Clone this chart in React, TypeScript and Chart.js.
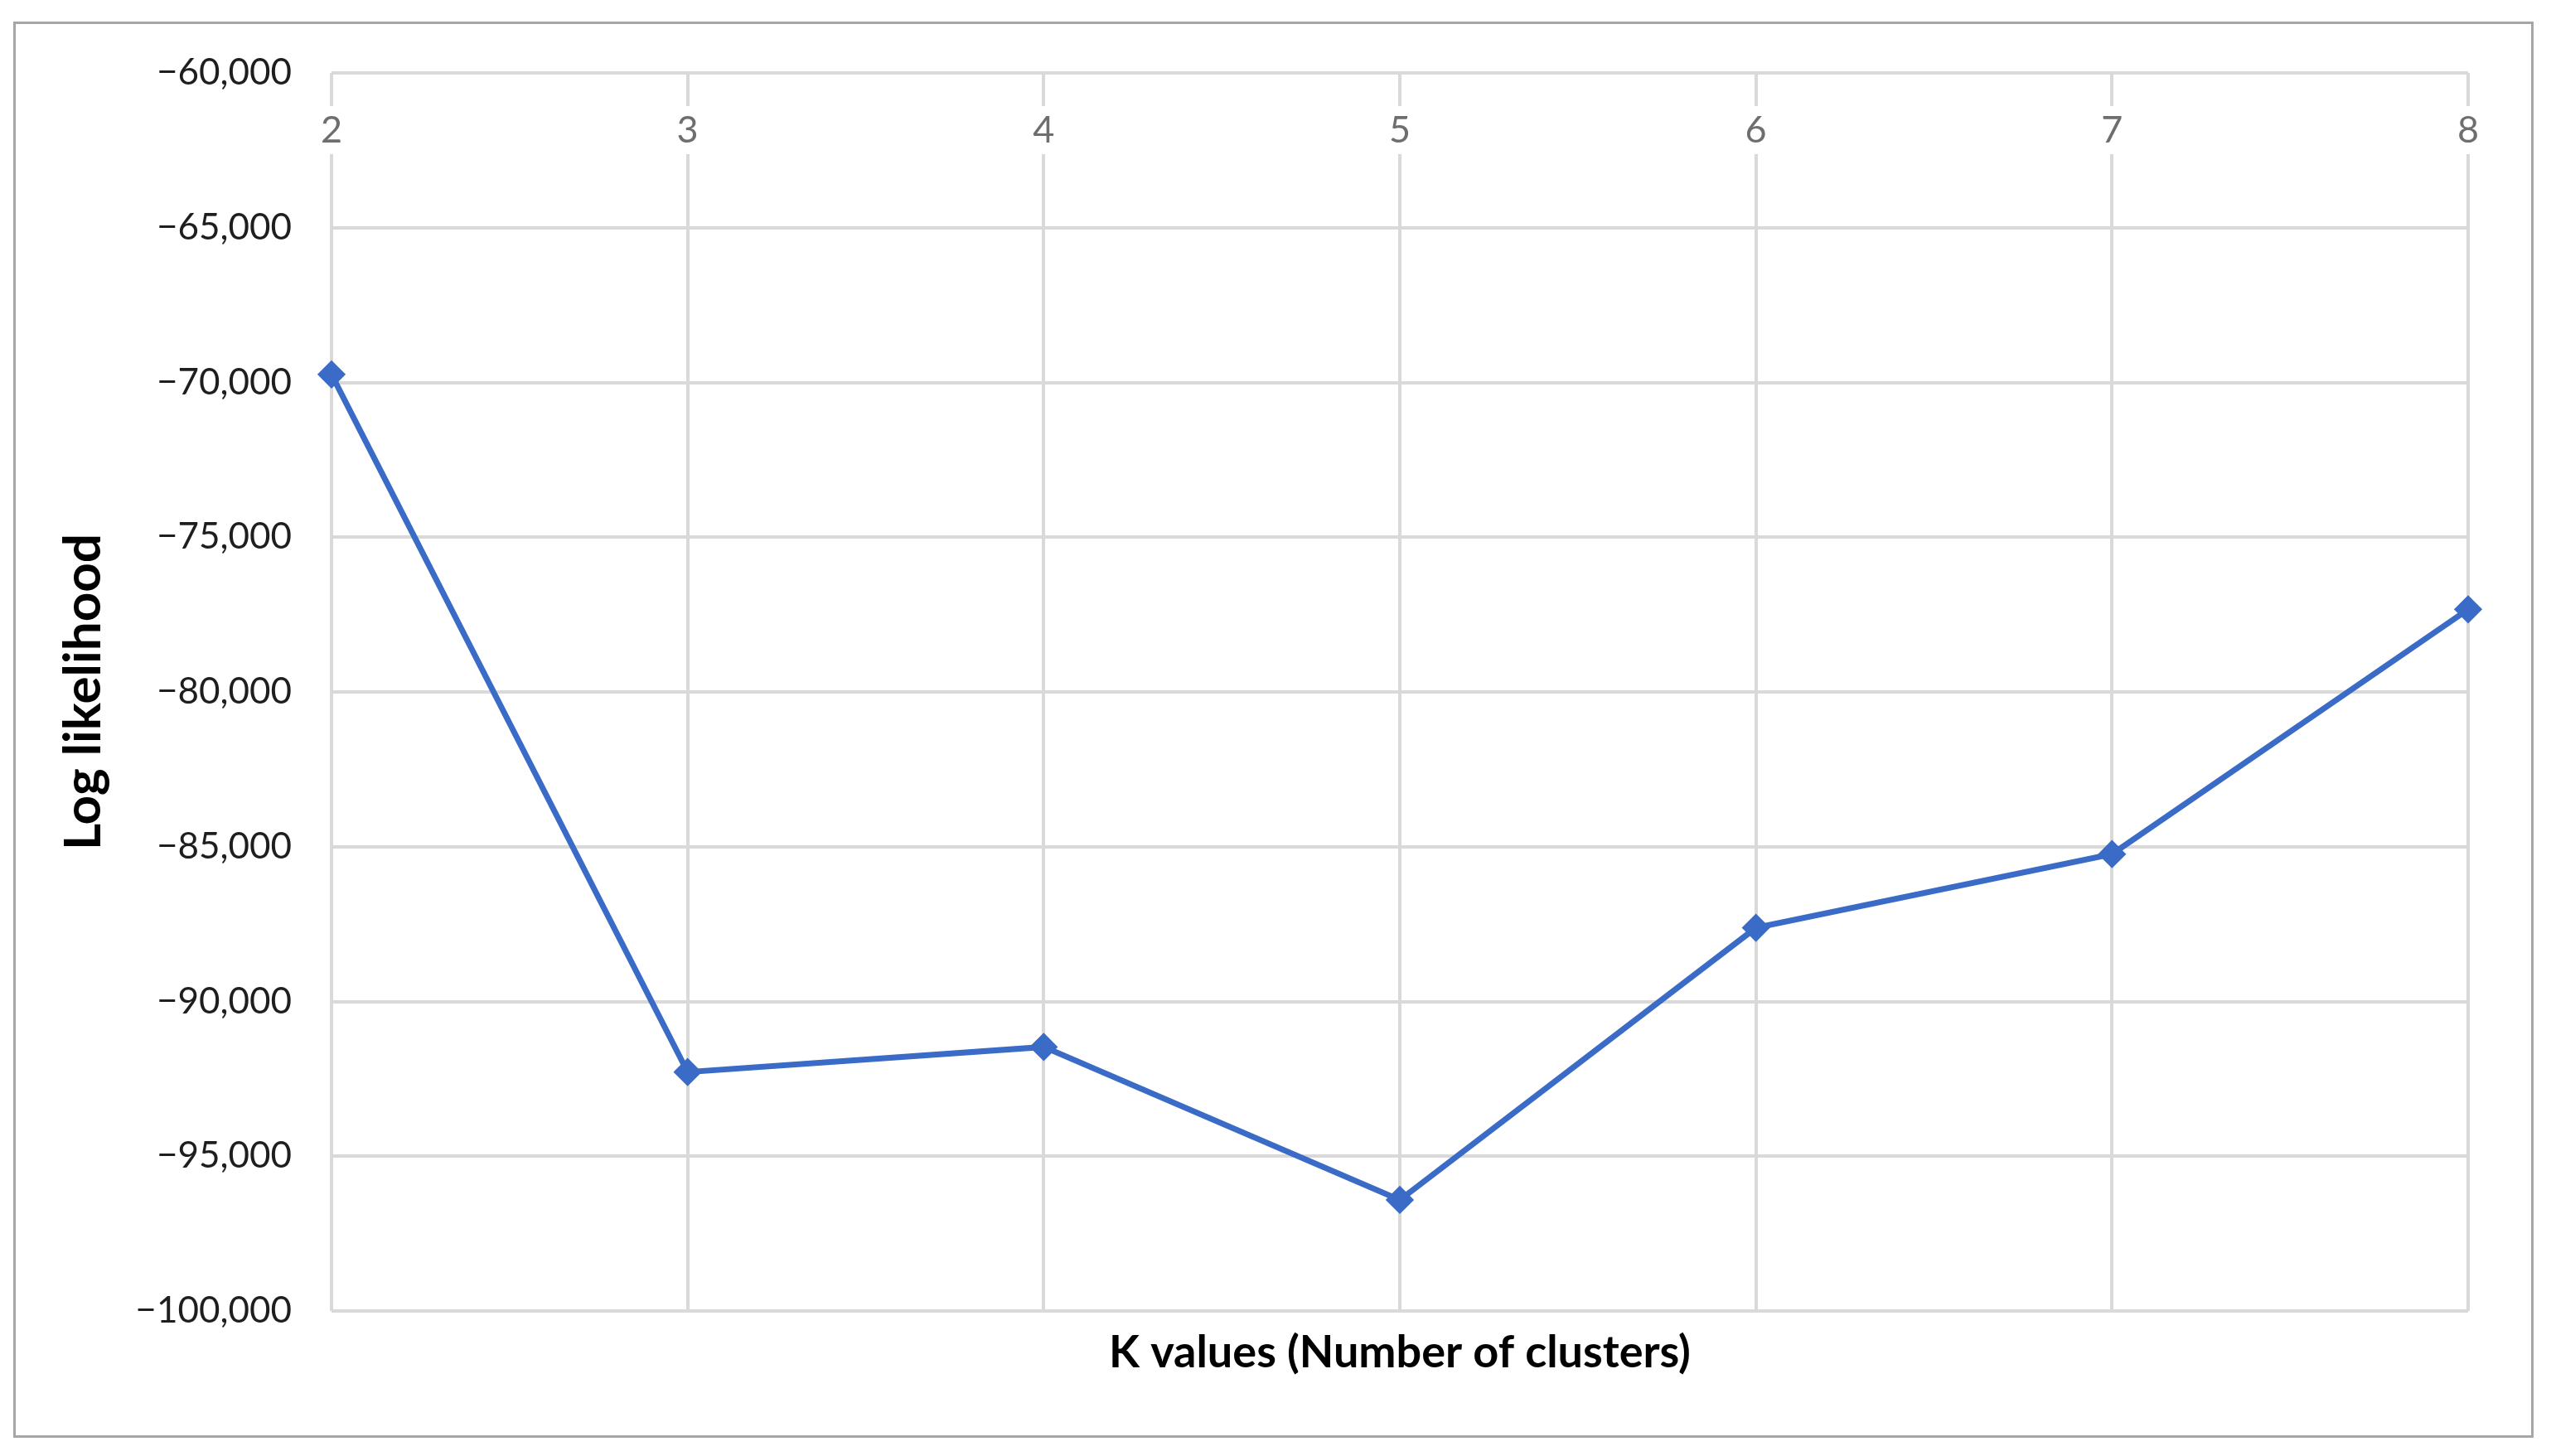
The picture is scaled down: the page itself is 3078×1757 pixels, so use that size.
import React, { useEffect, useRef } from "react";
import { Chart, registerables } from "chart.js";

Chart.register(...registerables);

const kValues: string[] = ["2", "3", "4", "5", "6", "7", "8"];
const logLikelihood: number[] = [-69740, -92280, -91470, -96410, -87620, -85240, -77330];
const yMin = -100000;
const yMax = -60000;
const yStep = 5000;
const xTitle = "K values (Number of clusters)";
const yTitle = "Log likelihood";

const W = 3078;
const H = 1757;
const FONT = "Lato";
const BLUE = "#3a6bc6";
const GRID = "#d9d9d9";

function fmt(v: number): string {
  const s = Math.abs(v).toLocaleString("en-US");
  return v < 0 ? "\u2212" + s : s;
}

export default function App() {
  const ref = useRef<HTMLCanvasElement | null>(null);

  useEffect(() => {
    if (!ref.current) return;
    const chart = new Chart(ref.current, {
      type: "line",
      data: {
        labels: kValues,
        datasets: [
          {
            data: logLikelihood,
            xAxisID: "x",
            yAxisID: "y",
            borderColor: BLUE,
            backgroundColor: BLUE,
            borderWidth: 7,
            tension: 0,
            pointStyle: "rectRot",
            pointRadius: 15,
            pointBorderWidth: 3,
            pointBackgroundColor: BLUE,
            pointBorderColor: BLUE,
            clip: false as any,
          },
        ],
      },
      options: {
        responsive: false,
        animation: false,
        devicePixelRatio: 1,
        layout: { padding: { left: 0, top: 0, right: 100, bottom: 0 } },
        plugins: {
          legend: { display: false },
          tooltip: { enabled: false },
          title: { display: false },
        },
        scales: {
          x: {
            type: "category",
            position: "top",
            offset: false,
            grid: { color: GRID, lineWidth: 4, drawTicks: false },
            border: { display: false },
            ticks: {
              mirror: true,
              padding: 42,
              maxRotation: 0,
              autoSkip: false,
              color: "#6e6e6e",
              font: { family: FONT, size: 45 },
              showLabelBackdrop: true,
              backdropColor: "#ffffff",
              backdropPadding: { top: 2, bottom: 2, left: 8, right: 8 },
            } as any,
            afterFit: (s: any) => {
              s.height = 88;
            },
          },
          x2: {
            type: "category",
            position: "bottom",
            offset: false,
            grid: { display: false, drawTicks: false },
            border: { display: false },
            ticks: { display: false },
            title: {
              display: true,
              text: xTitle,
              color: "#000000",
              font: { family: FONT, size: 54, weight: "bold" },
              padding: { top: 0, bottom: 92 },
            },
            afterFit: (s: any) => {
              s.height = 175;
            },
          },
          y: {
            type: "linear",
            position: "left",
            min: yMin,
            max: yMax,
            grid: { color: GRID, lineWidth: 4, drawTicks: false },
            border: { display: false },
            ticks: {
              stepSize: yStep,
              padding: 48,
              color: "#1e1e1e",
              font: { family: FONT, size: 44 },
              callback: (v: any) => fmt(Number(v)),
            },
            title: {
              display: true,
              text: yTitle,
              color: "#000000",
              font: { family: FONT, size: 62, weight: "bold" },
              padding: { top: 64, bottom: 0 },
            },
            afterFit: (s: any) => {
              s.width = 400;
            },
          },
        },
      } as any,
    });
    return () => chart.destroy();
  }, []);

  return (
    <div style={{ position: "fixed", left: 0, top: 0, width: W, height: H, background: "#ffffff" }}>
      <div
        style={{
          position: "absolute",
          left: 16,
          top: 26,
          width: 3041,
          height: 1709,
          border: "3px solid #a6a6a6",
          boxSizing: "border-box",
        }}
      />
      <canvas
        ref={ref}
        width={W}
        height={H}
        style={{ position: "absolute", left: 0, top: 0, width: W, height: H, display: "block" }}
      />
    </div>
  );
}
